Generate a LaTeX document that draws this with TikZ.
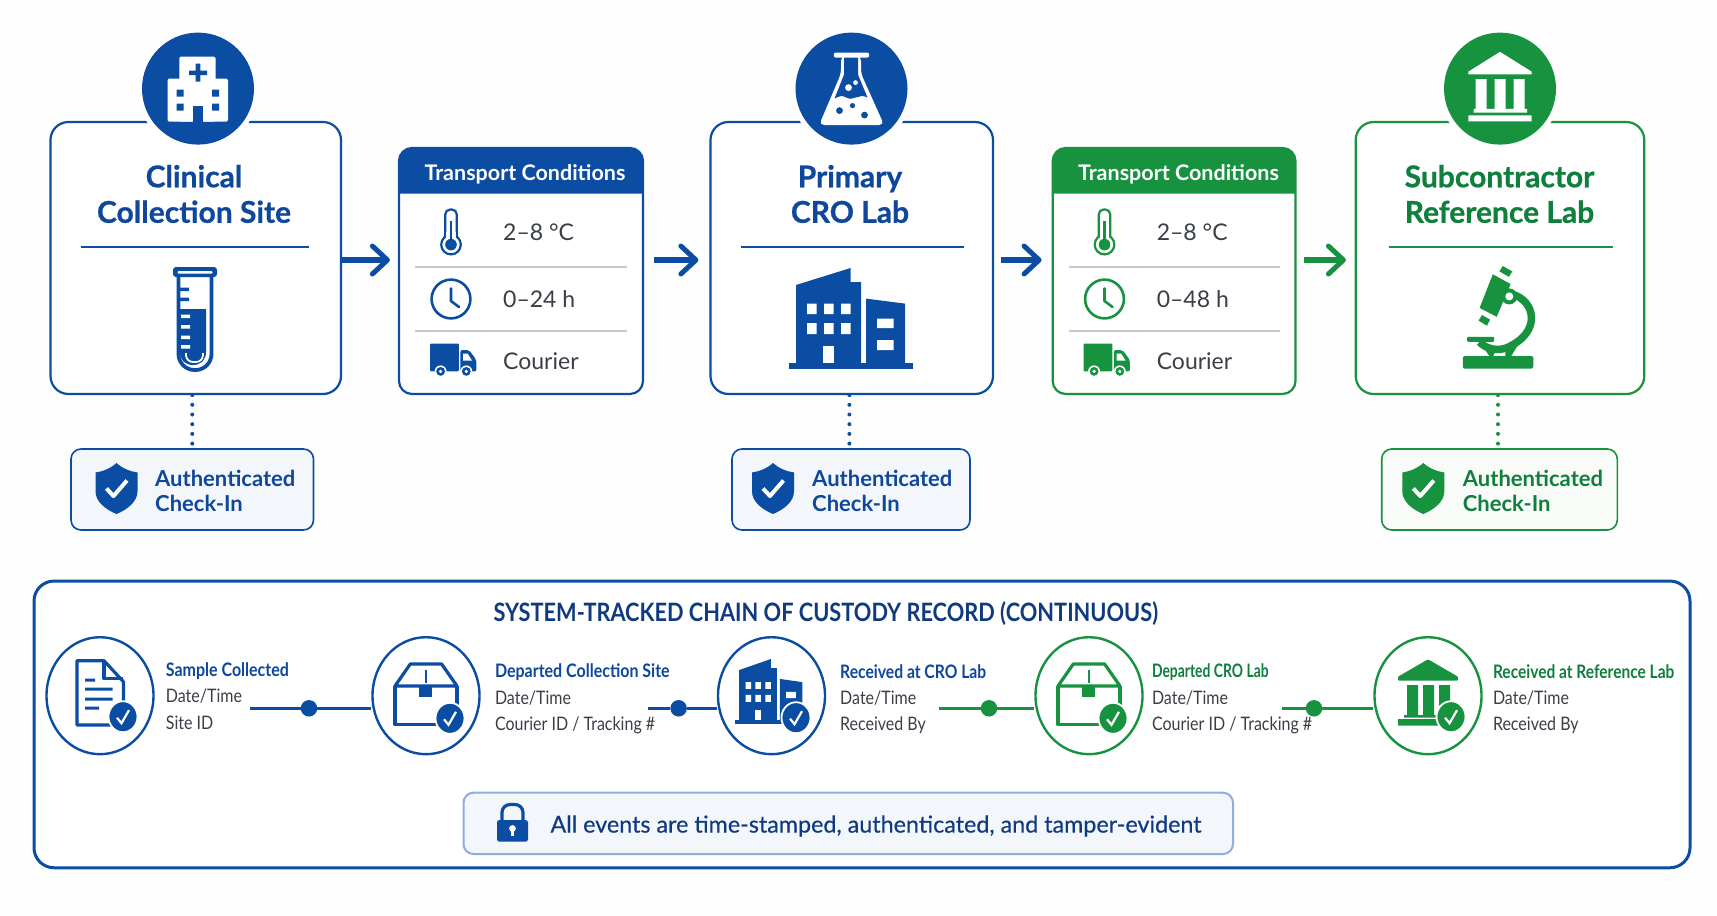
\documentclass[tikz,border=0pt]{standalone}
\usepackage{fontspec}
\setmainfont{Lato}
\newfontfamily\condfont[FakeStretch=0.86]{Lato}
\newfontfamily\ttlfont[BoldFeatures={FakeBold=0.7}]{Lato}
\newfontfamily\notefont[FakeBold=0.35]{Lato}
\usetikzlibrary{arrows.meta, calc, shapes.geometric}
\definecolor{bl}{HTML}{0B4DA2}
\definecolor{gn}{HTML}{17923F}
\definecolor{blt}{HTML}{0E479B}
\definecolor{gnt}{HTML}{0F7F3C}
\definecolor{navy}{HTML}{103A80}
\definecolor{ink}{HTML}{3A3F47}
\definecolor{rl}{HTML}{C4C6C8}
\definecolor{blf}{HTML}{F3F7FC}
\definecolor{gnf}{HTML}{F9FBF9}
\definecolor{nte}{HTML}{8FAEDB}
\definecolor{pap}{HTML}{FEFEFE}
\tikzset{%
    bx/.style={draw=#1, fill=white, line width=2.2pt, rounded corners=18pt, inner sep=0pt},
    pnl/.style={draw=#1, fill=white, line width=2.2pt, rounded corners=13pt, inner sep=0pt},
    chk/.style={draw=#1, line width=1.6pt, rounded corners=10pt, inner sep=0pt},
    hub/.style={circle, fill=#1, minimum size=112pt, inner sep=0pt},
    halo/.style={circle, fill=white, minimum size=122pt, inner sep=0pt},
    ttl/.style={font=\ttlfont\fontsize{30}{35.5}\selectfont\bfseries, align=center, text=#1},
    hdt/.style={font=\fontsize{21.5}{24}\selectfont\bfseries, text=white},
    val/.style={font=\fontsize{23}{26}\selectfont, text=ink, anchor=west, inner sep=0pt},
    att/.style={font=\fontsize{22}{25}\selectfont\bfseries, align=left, text=#1, anchor=west, inner sep=0pt},
    flow/.style={line width=6pt, draw=#1, -{Straight Barb[length=15pt,width=28pt,line width=5pt,round]}},
    dots/.style={line width=4pt, draw=#1, line cap=round, dash pattern=on 0pt off 9.7pt},
    evc/.style={ellipse, draw=#1, fill=white, line width=2.4pt, minimum width=107pt, minimum height=117pt, inner sep=0pt},
    evt/.style={font=\condfont\fontsize{18.6}{26.3}\selectfont, align=left, text=ink, anchor=west, inner sep=0pt},
    lnk/.style={line width=2.4pt, draw=#1},
    knob/.style={circle, fill=#1, minimum size=16.5pt, inner sep=0pt},
    sep/.style={line width=1.6pt, draw=rl},
    pics/hosp/.style={code={
        \fill[white, rounded corners=1.5pt] (-18.7,-32) rectangle (17.5,33);
        \fill[white, rounded corners=1.5pt] (-30.5,-10) rectangle (30,33);
        \fill[bl] (-9,-18) rectangle (9,-13.5) (-2.3,-25) rectangle (2.3,-7);
        \fill[bl] (-21.5,1) rectangle (-14.5,8) (14,1) rectangle (21,8) (-21.5,15) rectangle (-14.5,22) (14,15) rectangle (21,22);
        \fill[bl] (-5,17) rectangle (5,33);
    }},
    pics/flask/.style={code={
        \fill[white, rounded corners=2pt] (-17.7,-36) rectangle (17.7,-31);
        \fill[white, rounded corners=5pt] (-10.5,-33) -- (9.5,-33) -- (9.5,-15) -- (32.6,36.4) -- (-32.4,36.4) -- (-10.5,-15) -- cycle;
        \fill[bl] (-7.5,-31) -- (6.5,-31) -- (6.5,-14) -- (16,9) .. controls (8,4) and (2,13) .. (-5,9) .. controls (-10,6) and (-13,8) .. (-17,10) -- (-7.5,-14) -- cycle;
        \fill[white] (-3,-1) circle (3.4pt) (4,-6) circle (2.4pt);
        \fill[bl] (-12,22) circle (3.4pt) (1,17) circle (2.6pt) (13,26.5) circle (3.4pt);
    }},
    pics/bank/.style={code={
        \fill[white] (0,-36.8) -- (31.6,-17) -- (31.6,-14.3) -- (-31.6,-14.3) -- (-31.6,-17) -- cycle;
        \fill[white] (-24.5,-9.6) rectangle (-13.5,20.3) (-5.5,-9.6) rectangle (5.5,20.3) (13.5,-9.6) rectangle (24.5,20.3);
        \fill[white] (-26.5,20.3) rectangle (27,24) (-31.6,26.8) rectangle (31.6,32.8);
    }},
    pics/tube/.style={code={
        \draw[bl, line width=3.8pt, rounded corners=16pt] (-16.5,-41) -- (-16.5,52) -- (16.5,52) -- (16.5,-41);
        \fill[bl, rounded corners=3pt] (-22,-51) rectangle (22,-41);
        \fill[white, rounded corners=1pt] (-17.5,-47) rectangle (17.5,-44.5);
        \fill[bl] (-15,-9) -- (11,-9) -- (11,34) .. controls (11,42) and (6,47) .. (-2,47) .. controls (-10,47) and (-15,42) .. (-15,34) -- cycle;
        \fill[bl] (-15,-30.5) rectangle (-6,-27) (-15,-20.5) rectangle (-6,-17);
        \fill[white] (-14,-3.5) rectangle (-5,0) (-14,7) rectangle (-5,10.5) (-14,17.5) rectangle (-5,21) (-14,27) rectangle (-5,30.5);
        \draw[white, line width=1.8pt, rounded corners=7pt] (-9,35) -- (-9,44) -- (8,44) -- (8,35);
    }},
    pics/tower/.style={code={
        \fill[#1] (-54,-33) -- (0.6,-50) -- (0.6,-36) -- (11,-36) -- (11,45) -- (-54,45) -- cycle;
        \fill[#1] (16,-19.4) -- (55,-14.4) -- (55,45) -- (16,45) -- cycle;
        \fill[#1] (-61,44.5) rectangle (62.5,50.6);
        \fill[white] (-43,-14.4) rectangle (-33.5,-4) (-26,-14.4) rectangle (-16.5,-4) (-9,-14.4) rectangle (0.5,-4);
        \fill[white] (-43,5) rectangle (-33.5,16) (-26,5) rectangle (-16.5,16) (-9,5) rectangle (0.5,16);
        \fill[white] (-27.5,27.7) rectangle (-16,44.5);
        \fill[white] (27,0.6) rectangle (43.6,10) (27,22) rectangle (43.6,32);
    }},
    pics/scope lens/.style={code={
        \fill[gn] (-6.5,-43.7) -- (11.3,-34) -- (-2.6,-1.2) -- (-19.7,-10.1) -- cycle;
        \fill[gn] (3.4,-52) -- (13,-46.6) -- (9.6,-41.2) -- (0.1,-46.6) -- cycle;
        \fill[gn] (-17.4,-3) -- (-9.2,1.6) -- (-12.4,7.7) -- (-20.7,2.7) -- cycle;
        \draw[gn, line width=7.5pt] (12,-24) .. controls (36,-18) and (43,14) .. (8,29.5) .. controls (0,33) and (-12,32) .. (-20,24);
        \fill[gn] (10,-21.6) circle (8pt);
        \fill[white] (10,-21.6) circle (4pt);
        \fill[gn, rounded corners=1pt] (-32.2,18.8) rectangle (-5.2,23.8);
        \fill[gn] (-16,29) -- (-4,33) -- (-6,38) -- (-10,38) -- cycle (6,32) -- (18,28) -- (12,38) -- (6,38) -- cycle;
        \fill[gn, rounded corners=1.5pt] (-36.5,38) rectangle (34,50.6);
    }},
    pics/therm/.style={code={
        \draw[#1, fill=white, line width=2.2pt, rounded corners=5pt] (-5.8,-22.5) rectangle (5.8,14);
        \draw[#1, fill=white, line width=2.2pt] (0,12.6) circle (9.8pt);
        \fill[white] (-4.6,0) rectangle (4.6,8);
        \fill[#1] (0,12.6) circle (5.8pt);
        \draw[#1, line width=2.2pt] (0,12.6) -- (0,-11);
    }},
    pics/clock/.style={code={
        \draw[#1, line width=2.6pt] (0,0) circle (19.4pt);
        \draw[#1, line width=2.6pt, line cap=round, line join=round] (0,-10.5) -- (0,2) -- (8,8);
    }},
    pics/truck/.style={code={
        \fill[#1, rounded corners=1pt] (-23,-16.5) rectangle (5.8,11.4);
        \fill[#1, rounded corners=2pt] (7.4,-10) -- (16,-10) -- (23.4,0) -- (23.4,11.4) -- (7.4,11.4) -- cycle;
        \fill[white] (10,-6.5) -- (14.5,-6.5) -- (19,0.5) -- (10,0.5) -- cycle;
        \fill[white] (-12.4,11.4) circle (6pt) (13.3,11.4) circle (6pt);
        \fill[#1] (-12.4,11.4) circle (4.4pt) (13.3,11.4) circle (4.4pt);
        \fill[white] (-12.4,11.4) circle (1.8pt) (13.3,11.4) circle (1.8pt);
    }},
    pics/shield/.style={code={
        \fill[#1] (0,-25.5) .. controls (6,-20) and (14,-17) .. (21,-16) -- (21,3) .. controls (21,13) and (11,21) .. (0,25.5) .. controls (-11,21) and (-21,13) .. (-21,3) -- (-21,-16) .. controls (-14,-17) and (-6,-20) .. cycle;
        \draw[white, line width=4pt, line join=round] (-10,0) -- (-3,7.5) -- (10.5,-8);
    }},
    pics/badge/.style={code={
        \draw[white, fill=#1, line width=1.8pt] (0,0) ellipse [x radius=14.5pt, y radius=15.5pt];
        \draw[white, line width=2.2pt] (-6,1) -- (-1.5,6.5) -- (6,-6.5);
    }},
    pics/doc/.style={code={
        \draw[bl, line width=3.2pt, line join=round] (12,29.3) -- (-23,29.3) -- (-23,-35) -- (4,-35) -- (23.4,-14) -- (23.4,10);
        \draw[bl, line width=3.2pt, line join=round] (4,-35) -- (4,-17) -- (23.4,-17);
        \fill[bl] (-15,-17) rectangle (-5,-14) (-15,-8) rectangle (12.5,-5) (-15,2) rectangle (12.5,5) (-15,11) rectangle (-1,14);
        \pic at (23,21) {badge=bl};
    }},
    pics/crate/.style={code={
        \draw[#1, line width=3.2pt, line join=round] (-31,-9.7) -- (-15.7,-31.7) -- (15.6,-31.7) -- (31,-9.7) -- cycle;
        \draw[#1, line width=3.2pt, line join=round] (31,-9.7) -- (31,12) (-31,-9.7) -- (-31,29) -- (11,29);
        \draw[#1, line width=2.6pt] (0,-25.7) -- (0,-13);
        \fill[#1] (-7.5,-9.7) rectangle (5.7,1);
        \pic at (24,22.6) {badge=#1};
    }},
    pics/minibank/.style={code={
        \fill[#1, rounded corners=1pt] (0,-36.4) -- (30,-19) -- (30,-15) -- (-30,-15) -- (-30,-19) -- cycle;
        \fill[#1] (-21,-10.7) rectangle (-10,19.3) (-5,-10.7) rectangle (6,19.3) (11,-10.7) rectangle (22,10);
        \fill[#1] (-24,19.3) rectangle (9,22) (-30,23.3) rectangle (10,30);
        \pic at (23,21) {badge=#1};
    }},
    pics/lock/.style={code={
        \draw[bl, line width=3.2pt, rounded corners=8pt] (-10.5,0) -- (-10.5,-18.5) -- (10.5,-18.5) -- (10.5,0);
        \fill[bl, rounded corners=2.5pt] (-15.5,-3) rectangle (15.5,18.7);
        \fill[white] (0,5.5) circle (3.4pt);
        \fill[white] (-1.6,5.5) rectangle (1.6,13);
    }},
}
\begin{document}
\begin{tikzpicture}[x=1pt,y=-1pt]
    \useasboundingbox (0,0) rectangle (1717,916);
    \fill[pap] (0,0) rectangle (1717,916);
    % sites along the top
    \node[bx=bl, minimum width=290.5pt, minimum height=272pt] (site) at (195.75,258) {};
    \node[halo] (hal1) at (198,88.6) {};
    \node[hub=bl] (hub1) at (198,88.6) {};
    \pic at (198,88.6) {hosp};
    \node[ttl=blt] (nam1) at (194,194) {Clinical\\Collection Site};
    \draw[bl, line width=1.6pt] (81,247) -- (309,247);
    \pic at (195,318) {tube};

    \node[bx=bl, minimum width=282.5pt, minimum height=272pt] (cro) at (851.75,258) {};
    \node[halo] (hal2) at (851.5,88.6) {};
    \node[hub=bl] (hub2) at (851.5,88.6) {};
    \pic at (851.5,88.6) {flask};
    \node[ttl=blt] (nam2) at (850,194) {Primary\\CRO Lab};
    \draw[bl, line width=1.6pt] (741,247) -- (963.5,247);
    \pic at (850,318) {tower=bl};

    \node[bx=gn, minimum width=288.6pt, minimum height=272pt] (lab) at (1500,258) {};
    \node[halo] (hal3) at (1500,88.6) {};
    \node[hub=gn] (hub3) at (1500,88.6) {};
    \pic at (1500,88.6) {bank};
    \node[ttl=gnt] (nam3) at (1499.5,194) {Subcontractor\\Reference Lab};
    \draw[gn, line width=1.6pt] (1388.7,247) -- (1613,247);
    \pic at (1499.3,318) {scope lens};

    % transport panels
    \node[pnl=bl, minimum width=244pt, minimum height=246pt] (cond1) at (521,271) {};
    \fill[bl] (399,193.5) [rounded corners=13pt] -- (399,148) -- (643,148) [sharp corners] -- (643,193.5) -- cycle;
    \node[hdt] (hd1) at (525,174) {Transport Conditions};
    \pic at (451,232) {therm=bl};
    \node[val] (tmp1) at (503,232) {2–8 °C};
    \draw[sep] (415,267) -- (627,267);
    \pic at (451,299) {clock=bl};
    \node[val] (tim1) at (503,299) {0–24 h};
    \draw[sep] (415,331) -- (627,331);
    \pic at (453,360) {truck=bl};
    \node[val] (cou1) at (503,361) {Courier};

    \node[pnl=gn, minimum width=242.8pt, minimum height=246pt] (cond2) at (1174.1,271) {};
    \fill[gn] (1052.7,193.5) [rounded corners=13pt] -- (1052.7,148) -- (1295.5,148) [sharp corners] -- (1295.5,193.5) -- cycle;
    \node[hdt] (hd2) at (1178.5,174) {Transport Conditions};
    \pic at (1104.5,232) {therm=gn};
    \node[val] (tmp2) at (1156.6,232) {2–8 °C};
    \draw[sep] (1068.7,267) -- (1280,267);
    \pic at (1104.5,299) {clock=gn};
    \node[val] (tim2) at (1156.6,299) {0–48 h};
    \draw[sep] (1068.7,331) -- (1280,331);
    \pic at (1106.5,360) {truck=gn};
    \node[val] (cou2) at (1156.6,361) {Courier};

    % arrows between them
    \coordinate (a1) at (341,260);
    \coordinate (a2) at (654,260);
    \coordinate (a3) at (1001,260);
    \coordinate (a4) at (1303.7,260);
    \draw[flow=bl, shorten >=8pt] (a1) -- (a1 -| cond1.west);
    \draw[flow=bl, shorten >=11pt] (a2) -- (a2 -| cro.west);
    \draw[flow=bl, shorten >=10pt] (a3) -- (a3 -| cond2.west);
    \draw[flow=gn, shorten >=8.7pt] (a4) -- (a4 -| lab.west);

    % check-ins
    \node[chk=bl, fill=blf, minimum width=242.5pt, minimum height=81pt] (chk1) at (192.25,489.5) {};
    \pic at (116.5,488.5) {shield=bl};
    \node[att=blt] (txt1) at (155,490.5) {Authenticated\\Check-In};
    \draw[dots=bl] (chk1.north |- site.south) -- (chk1.north);

    \node[chk=bl, fill=blf, minimum width=238pt, minimum height=81pt] (chk2) at (851,489.5) {};
    \pic at (773,488.5) {shield=bl};
    \node[att=blt] (txt2) at (812,490.5) {Authenticated\\Check-In};
    \draw[dots=bl] ([xshift=-1.6pt]chk2.north |- cro.south) -- ([xshift=-1.6pt]chk2.north);

    \node[chk=gn, fill=gnf, minimum width=235.6pt, minimum height=81pt] (chk3) at (1499.5,489.5) {};
    \pic at (1423.3,488.5) {shield=gn};
    \node[att=gnt] (txt3) at (1462.7,490.5) {Authenticated\\Check-In};
    \draw[dots=gn] ([xshift=-1.5pt]chk3.north |- lab.south) -- ([xshift=-1.5pt]chk3.north);

    % custody record
    \node[draw=bl, fill=white, line width=3pt, rounded corners=20pt, minimum width=1656pt, minimum height=286.7pt, inner sep=0pt] (rec) at (862,724.4) {};
    \node[font=\condfont\fontsize{25.3}{28}\selectfont\bfseries, text=navy] (rect) at (825.8,613.5) {SYSTEM-TRACKED CHAIN OF CUSTODY RECORD (CONTINUOUS)};

    \node[evc=bl] (ev1) at (100,695.7) {};
    \node[evc=bl] (ev2) at (426,695.7) {};
    \node[evc=bl] (ev3) at (771.5,695.7) {};
    \node[evc=gn] (ev4) at (1089,695.7) {};
    \node[evc=gn] (ev5) at (1428,695.7) {};
    \pic at (100,695.7) {doc};
    \pic at (426,695.7) {crate=bl};
    \pic[xscale=0.58,yscale=0.65] at (770.5,691.5) {tower=bl};
    \pic at (796,717.7) {badge=bl};
    \pic at (1089,695.7) {crate=gn};
    \pic at (1428,695.7) {minibank=gn};

    \node[evt] (t1) at (165.7,696) {\textcolor{blt}{\bfseries Sample Collected}\\Date/Time\\Site ID};
    \node[evt] (t2) at (494.8,699) {\textcolor{blt}{\bfseries Departed Collection Site}\\Date/Time\\Courier ID / Tracking \#};
    \node[evt] (t3) at (840,699) {\textcolor{blt}{\scalebox{0.98}[1]{\bfseries Received at CRO Lab}}\\Date/Time\\Received By};
    \node[evt] (t4) at (1151.8,699) {\textcolor{gnt}{\scalebox{0.87}[1]{\bfseries Departed CRO Lab}}\\Date/Time\\Courier ID / Tracking \#};
    \node[evt] (t5) at (1492.8,699) {\textcolor{gnt}{\scalebox{0.97}[1]{\bfseries Received at Reference Lab}}\\Date/Time\\Received By};

    \coordinate (c1) at (249.6,708.3);
    \coordinate (c2) at (648,708.3);
    \coordinate (c3) at (939,708.3);
    \coordinate (c4) at (1282.4,708.3);
    \node[knob=bl] (d1) at (309,708.3) {};
    \node[knob=bl] (d2) at (678.6,708.3) {};
    \node[knob=gn] (d3) at (989,708.3) {};
    \node[knob=gn] (d4) at (1314,708.3) {};
    \draw[lnk=bl] (c1) -- (d1) -- (d1 -| ev2.west);
    \draw[lnk=bl] (c2) -- (d2) -- (d2 -| ev3.west);
    \draw[lnk=gn] (c3) -- (d3) -- (d3 -| ev4.west);
    \draw[lnk=gn] (c4) -- (d4) -- (d4 -| ev5.west);

    % note at the bottom
    \node[draw=nte, fill=blf, line width=2pt, rounded corners=10pt, minimum width=769.5pt, minimum height=61.3pt, inner sep=0pt] (note) at (848.25,823.35) {};
    \pic at (512.5,823) {lock};
    \node[font=\notefont\fontsize{23.3}{28}\selectfont, text=navy, anchor=west, inner sep=0pt] (ntxt) at (550.3,826) {All events are time-stamped, authenticated, and tamper-evident};
\end{tikzpicture}
\end{document}
